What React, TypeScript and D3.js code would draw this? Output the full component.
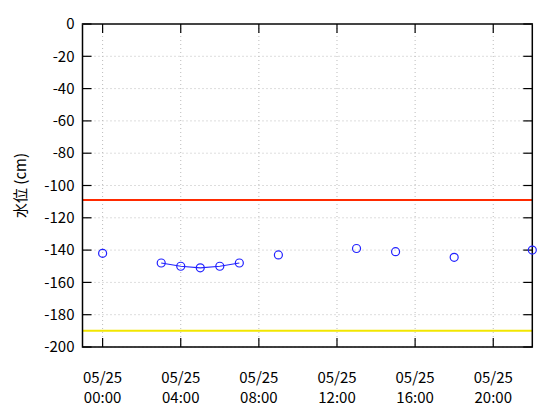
import React from "react";
import * as d3 from "d3";

// hours from 05/25 00:00; null = no measurement
const hours = [0, 1, 2, 3, 4, 5, 6, 7, 8, 9, 13, 15, 18, 22];
const levels: (number | null)[] = [-142, null, null, -148, -150, -151, -150, -148, null, -143, -139, -141, -144.5, -140];
const redLine = -109;
const yellowLine = -190;
const yTicks = [0, -20, -40, -60, -80, -100, -120, -140, -160, -180, -200];
const xTicks = [0, 4, 8, 12, 16, 20];
const xTickDate = ["05/25", "05/25", "05/25", "05/25", "05/25", "05/25"];
const xTickTime = ["00:00", "04:00", "08:00", "12:00", "16:00", "20:00"];
const yLabel = "水位 (cm)";

export default function App() {
  const W = 560, H = 420;
  const L = 82.5, R = 532.3, T = 24, B = 347;
  const x = d3.scaleLinear().domain([-1.03, 22]).range([L, R]);
  const y = d3.scaleLinear().domain([-200, 0]).range([B, T]);
  const font = "'Noto Sans CJK JP', 'DejaVu Sans', sans-serif";

  const pts = hours.map((h, i) => ({ h, v: levels[i] }));
  const lineData: ({ h: number; v: number | null })[] = [];
  pts.forEach((p, i) => {
    if (i > 0 && p.h - pts[i - 1].h > 1) lineData.push({ h: p.h, v: null });
    lineData.push(p);
  });
  const line = d3
    .line<{ h: number; v: number | null }>()
    .defined((d) => d.v !== null)
    .x((d) => x(d.h))
    .y((d) => y(d.v as number));

  return (
    <svg width={W} height={H} style={{ position: "absolute", left: 0, top: 0 }} fontFamily={font}>
      <rect x={0} y={0} width={W} height={H} fill="#fff" />
      {yTicks.map((t) => (
        <line key={"gy" + t} x1={L} x2={R} y1={y(t)} y2={y(t)} stroke="#bbb" strokeWidth={1} strokeDasharray="1,3" />
      ))}
      {xTicks.map((t) => (
        <line key={"gx" + t} x1={x(t)} x2={x(t)} y1={T} y2={B} stroke="#bbb" strokeWidth={1} strokeDasharray="1,3" />
      ))}
      <line x1={L} x2={R} y1={y(redLine)} y2={y(redLine)} stroke="#ff2a00" strokeWidth={2} />
      <line x1={L} x2={R} y1={y(yellowLine)} y2={y(yellowLine)} stroke="#f2e600" strokeWidth={2} />
      <rect x={L} y={T} width={R - L} height={B - T} fill="none" stroke="#000" strokeWidth={1.5} />
      <line x1={L} x2={R} y1={T} y2={T} stroke="#444" strokeWidth={2} />
      {yTicks.map((t) => (
        <g key={"ty" + t}>
          <line x1={L} x2={L + 9} y1={y(t)} y2={y(t)} stroke="#000" strokeWidth={1.2} />
          <line x1={R - 9} x2={R} y1={y(t)} y2={y(t)} stroke="#000" strokeWidth={1.2} />
          <text x={L - 8} y={y(t)} dy="0.35em" textAnchor="end" fontSize={15} fill="#000">
            {t}
          </text>
        </g>
      ))}
      {xTicks.map((t, i) => (
        <g key={"tx" + t}>
          <line x1={x(t)} x2={x(t)} y1={B} y2={B - 9} stroke="#000" strokeWidth={1.2} />
          <line x1={x(t)} x2={x(t)} y1={T} y2={T + 9} stroke="#000" strokeWidth={1.2} />
          <text x={x(t)} y={383} textAnchor="middle" fontSize={15} fill="#000">
            {xTickDate[i]}
          </text>
          <text x={x(t)} y={403} textAnchor="middle" fontSize={15} fill="#000">
            {xTickTime[i]}
          </text>
        </g>
      ))}
      <text
        transform={`translate(26,${(T + B) / 2}) rotate(-90)`}
        textAnchor="middle"
        fontSize={15}
        fill="#000"
      >
        {yLabel}
      </text>
      <path d={line(lineData) || ""} fill="none" stroke="#2222ff" strokeWidth={1.2} />
      {pts
        .filter((p) => p.v !== null)
        .map((p) => (
          <circle key={"p" + p.h} cx={x(p.h)} cy={y(p.v as number)} r={4} fill="none" stroke="#2222ff" strokeWidth={1.2} />
        ))}
    </svg>
  );
}
